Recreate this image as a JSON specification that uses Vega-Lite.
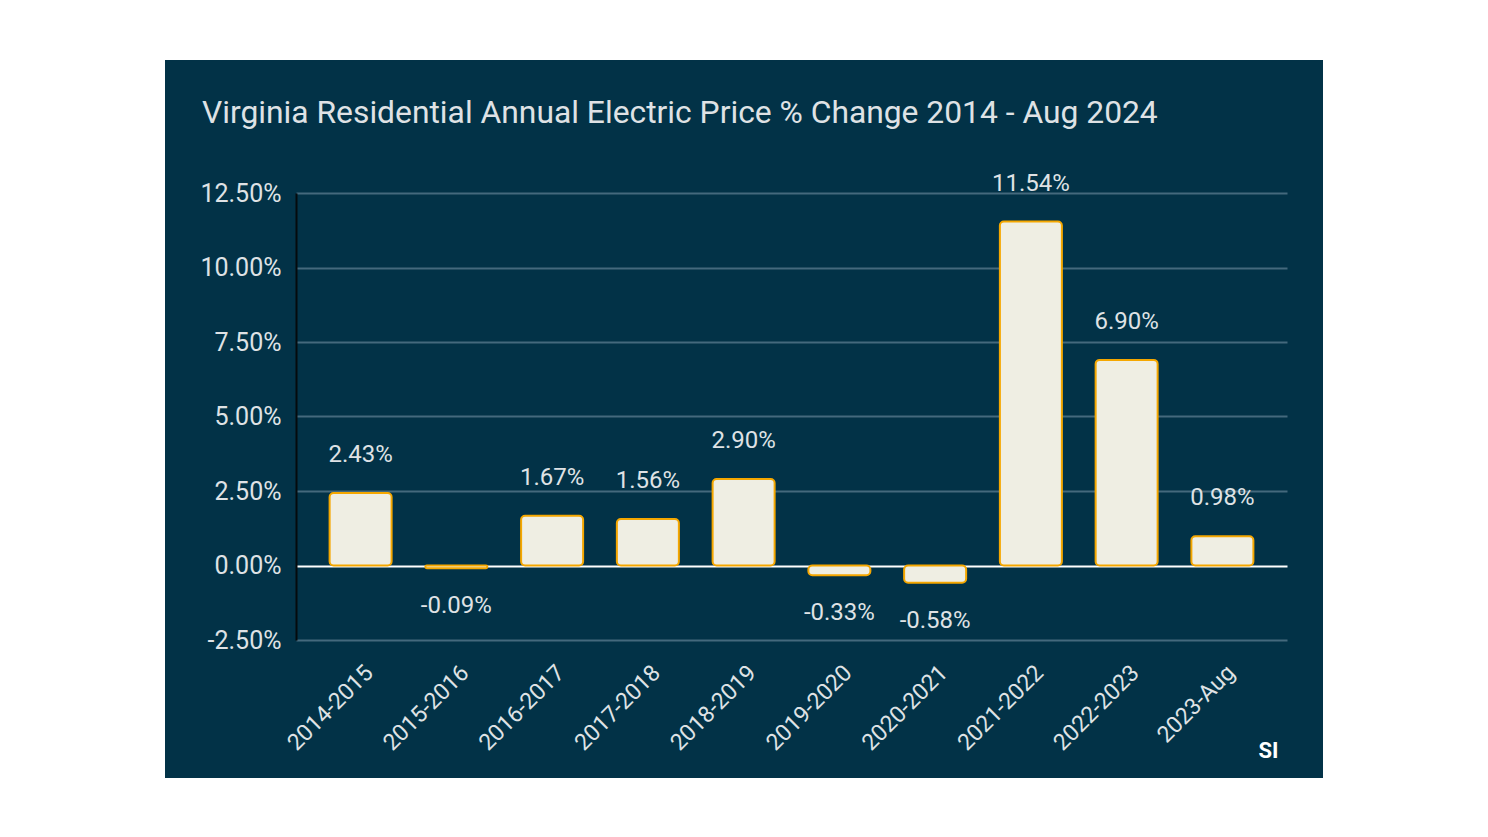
{
  "$schema": "https://vega.github.io/schema/vega-lite/v6.json",
  "width": 1158,
  "height": 718,
  "autosize": {"type": "none"},
  "padding": {"left": 165, "top": 60, "right": 165, "bottom": 59},
  "background": "#ffffff",
  "config": {
    "view": {"fill": "#023247", "stroke": null},
    "font": "Roboto",
    "locale": {"number": {"decimal": ".", "thousands": ",", "grouping": [3], "currency": ["$", ""], "minus": "-"}}
  },
  "title": {
    "text": "Virginia Residential Annual Electric Price % Change 2014 - Aug 2024",
    "anchor": "start",
    "frame": "group",
    "dx": 37,
    "offset": -95,
    "baseline": "alphabetic",
    "fontSize": 31.8,
    "fontWeight": "normal",
    "font": "Roboto",
    "color": "#dfe2e5"
  },
  "data": {
    "values": [
      {"period": "2014-2015", "change": 0.0243},
      {"period": "2015-2016", "change": -0.0009},
      {"period": "2016-2017", "change": 0.0167},
      {"period": "2017-2018", "change": 0.0156},
      {"period": "2018-2019", "change": 0.029},
      {"period": "2019-2020", "change": -0.0033},
      {"period": "2020-2021", "change": -0.0058},
      {"period": "2021-2022", "change": 0.1154},
      {"period": "2022-2023", "change": 0.069},
      {"period": "2023-Aug", "change": 0.0098}
    ]
  },
  "encoding": {
    "x": {
      "field": "period", "type": "nominal", "sort": null,
      "scale": {"range": [131, 1122], "paddingInner": 0.3525, "paddingOuter": 0.351, "align": 0.5},
      "axis": {
        "labelAngle": -45, "domain": false, "ticks": false, "grid": false,
        "offset": -138, "labelPadding": 21, "labelOffset": 1,
        "labelFontSize": 23, "labelColor": "#dfe2e5", "labelFont": "Roboto",
        "title": "SI", "titleX": 1103, "titleY": 110, "titleAlign": "center", "titleBaseline": "middle",
        "titleFontSize": 22, "titleFontWeight": "bold", "titleColor": "#ffffff", "titleFont": "Roboto"
      }
    },
    "y": {
      "field": "change", "type": "quantitative",
      "scale": {"domain": [-0.025, 0.125], "range": [580, 133], "nice": false, "zero": false},
      "axis": {
        "values": [-0.025, 0, 0.025, 0.05, 0.075, 0.1, 0.125],
        "format": ".2%",
        "grid": true,
        "gridColor": {"condition": {"test": "datum.value === 0", "value": "#ffffff"}, "value": "#44697d"},
        "gridWidth": 2,
        "gridOpacity": 1,
        "domain": true, "domainColor": "#050a0d", "domainWidth": 2,
        "ticks": false,
        "offset": -131, "labelPadding": 15,
        "labelFontSize": 25, "labelColor": "#dfe2e5", "labelFont": "Roboto",
        "title": null
      }
    }
  },
  "layer": [
    {
      "mark": {"type": "bar", "fill": "#efeee3", "stroke": "#f5a700", "strokeWidth": 2, "cornerRadius": 4},
      "encoding": {
        "y2": {"datum": 0}
      }
    },
    {
      "transform": [{"filter": "datum.change >= 0"}],
      "mark": {"type": "text", "baseline": "middle", "dy": -38, "fontSize": 24, "color": "#dfe2e5", "font": "Roboto"},
      "encoding": {
        "text": {"field": "change", "type": "quantitative", "format": ".2%"}
      }
    },
    {
      "transform": [{"filter": "datum.change < 0"}],
      "mark": {"type": "text", "baseline": "middle", "dy": 38, "fontSize": 24, "color": "#dfe2e5", "font": "Roboto"},
      "encoding": {
        "text": {"field": "change", "type": "quantitative", "format": ".2%"}
      }
    }
  ]
}
